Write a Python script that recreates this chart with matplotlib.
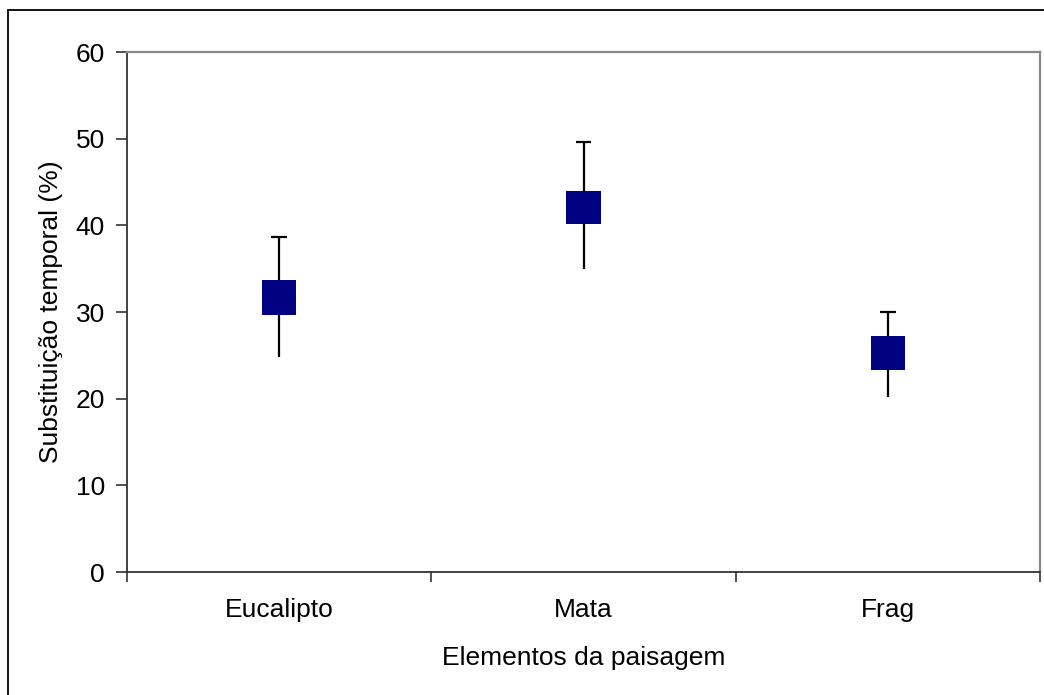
import matplotlib
matplotlib.use("Agg")
import matplotlib.pyplot as plt
from matplotlib.patches import Rectangle

plt.rcParams["font.family"] = ["Liberation Sans", "DejaVu Sans"]

# dados
categorias = ["Eucalipto", "Mata", "Frag"]
caixa_sup = [33.7, 44.0, 27.2]
caixa_inf = [29.7, 40.1, 23.3]
bigode_sup = [38.6, 49.6, 30.0]
bigode_inf = [24.8, 35.0, 20.2]
y_ticks = [0, 10, 20, 30, 40, 50, 60]

W, H = 1044, 695
fig = plt.figure(figsize=(W / 100, H / 100), dpi=100)
ax = fig.add_axes([127 / W, 1 - 572 / H, (1040 - 127) / W, (572 - 52) / H])

# moldura externa (estilo Excel)
fig.patches.append(Rectangle((8 / W, -0.1), 1.2, 1 - 10 / H + 0.1,
                             transform=fig.transFigure, fill=False,
                             edgecolor="black", linewidth=1.3))

largura = 0.112
cap = 0.026
for i in range(len(categorias)):
    ax.plot([i, i], [bigode_inf[i], bigode_sup[i]], color="black", lw=1.6,
            solid_capstyle="butt", zorder=2)
    ax.plot([i - cap, i + cap], [bigode_sup[i], bigode_sup[i]], color="black",
            lw=1.6, solid_capstyle="butt", zorder=2)
    ax.add_patch(Rectangle((i - largura / 2, caixa_inf[i]), largura,
                           caixa_sup[i] - caixa_inf[i], facecolor="#000080",
                           edgecolor="none", zorder=3))

ax.set_xlim(-0.5, len(categorias) - 0.5)
ax.set_ylim(0, 60)
ax.set_yticks(y_ticks)
ax.set_xticks([-0.5, 0.5, 1.5, 2.5])
ax.set_xticklabels([])
ax.set_xticks(range(len(categorias)), minor=True)
ax.set_xticklabels(categorias, minor=True)
ax.tick_params(axis="x", which="minor", length=0, pad=19, labelsize=19)
ax.tick_params(axis="x", which="major", length=7, width=1.2, direction="out",
               color="#333333")
ax.tick_params(axis="y", length=8, width=1.2, direction="out", pad=8,
               labelsize=19, color="#333333")

for s in ["left", "bottom"]:
    ax.spines[s].set_color("#333333")
    ax.spines[s].set_linewidth(1.3)
for s in ["top", "right"]:
    ax.spines[s].set_color("#888888")
    ax.spines[s].set_linewidth(1.6)

ax.set_xlabel("Elementos da paisagem", fontsize=19, labelpad=17)
ax.set_ylabel("Substituição temporal (%)", fontsize=19, labelpad=9)

fig.savefig("out.png", dpi=100)
